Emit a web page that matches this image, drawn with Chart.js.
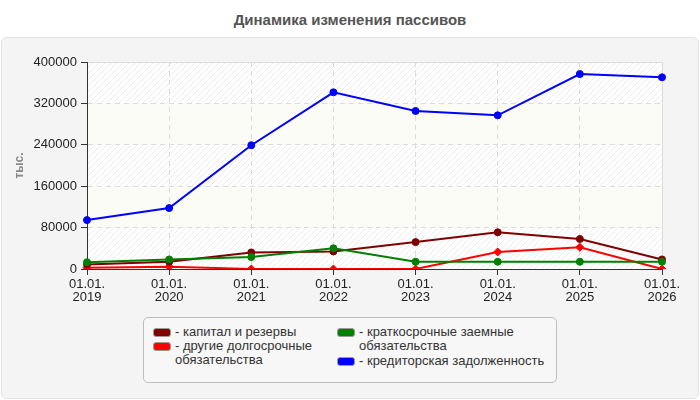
<!DOCTYPE html>
<html>
<head>
<meta charset="utf-8">
<script src="https://cdn.jsdelivr.net/npm/chart.js@4/dist/chart.umd.min.js"></script>
<style>
  body { margin: 0; width: 700px; height: 400px; background: #fff; font-family: 'Liberation Sans', Arial, sans-serif; position: relative; overflow: hidden; }
  #title { position: absolute; top: 11px; left: 0; width: 700px; text-align: center; font-size: 15px; font-weight: bold; color: #555; }
  #panel { position: absolute; left: 1px; top: 37px; width: 696px; height: 360px; background: #f4f4f4; border: 1px solid #e2e2e2; border-radius: 6px; }
  #chart { position: absolute; left: 0; top: 0; }
  #legend { position: absolute; left: 143px; top: 317px; width: 412px; height: 64px; background: #f7f7f7; border: 1px solid #bdbdbd; border-radius: 5px; }
  .item { position: absolute; font-size: 13px; line-height: 14px; color: #333; }
  .sw { position: absolute; left: 0; top: 3px; width: 16px; height: 7px; border: 1px solid #999; border-radius: 3px; }
  .txt { padding-left: 22px; }
</style>
</head>
<body>
<div id="title">Динамика изменения пассивов</div>
<div id="panel"></div>
<canvas id="chart" width="700" height="400"></canvas>
<div id="legend"></div>
<script>
// Data
const years = ['2019', '2020', '2021', '2022', '2023', '2024', '2025', '2026'];
const capital = [8800, 14000, 32000, 34000, 52000, 71000, 58000, 18500];
const otherLongTerm = [2600, 4500, 0, 0, 0, 33000, 42000, 0];
const shortTermLoans = [13000, 18500, 23000, 40000, 14000, 14000, 14000, 14000];
const payables = [94500, 117700, 239200, 341400, 305400, 297000, 376700, 370400];
const yTicks = [0, 80000, 160000, 240000, 320000, 400000];

const seriesNames = [
    'капитал и резервы',
    'другие долгосрочные обязательства',
    'краткосрочные заемные обязательства',
    'кредиторская задолженность'
];
const seriesColors = ['#800000', '#ff0000', '#008000', '#0000ff'];

const fontFamily = "'Liberation Sans', Arial, sans-serif";

// Hatched pattern for plot bands
function makeHatch() {
    const c = document.createElement('canvas');
    c.width = 6; c.height = 6;
    const g = c.getContext('2d');
    g.fillStyle = '#ffffff';
    g.fillRect(0, 0, 6, 6);
    g.strokeStyle = '#ececec';
    g.lineWidth = 1;
    g.beginPath();
    g.moveTo(0, 6); g.lineTo(6, 0);
    g.moveTo(-1, 1); g.lineTo(1, -1);
    g.moveTo(5, 7); g.lineTo(7, 5);
    g.stroke();
    return g.createPattern(c, 'repeat');
}

const bandPlugin = {
    id: 'bands',
    beforeDraw(chart) {
        const { ctx, chartArea, scales } = chart;
        const hatch = makeHatch();
        ctx.save();
        for (let i = 0; i < yTicks.length - 1; i++) {
            const top = scales.y.getPixelForValue(yTicks[i + 1]);
            const bottom = scales.y.getPixelForValue(yTicks[i]);
            ctx.fillStyle = (i % 2 === 0) ? hatch : '#fcfcf6';
            ctx.fillRect(chartArea.left, top, chartArea.right - chartArea.left, bottom - top);
        }
        // light frame on top and right
        ctx.strokeStyle = '#dddddd';
        ctx.lineWidth = 1;
        ctx.beginPath();
        ctx.moveTo(chartArea.left, chartArea.top + 0.5);
        ctx.lineTo(chartArea.right + 0.5, chartArea.top + 0.5);
        ctx.lineTo(chartArea.right + 0.5, chartArea.bottom);
        ctx.stroke();
        ctx.restore();
    }
};

function dataset(i, values, pointStyle, radius, order) {
    return {
        label: seriesNames[i],
        data: values,
        borderColor: seriesColors[i],
        backgroundColor: seriesColors[i],
        borderWidth: 2,
        pointStyle: pointStyle,
        pointRadius: radius,
        pointBorderWidth: 1,
        tension: 0,
        order: order
    };
}

new Chart(document.getElementById('chart'), {
    type: 'line',
    data: {
        labels: years.map(y => ['01.01.', y]),
        datasets: [
            dataset(0, capital, 'circle', 3.5, 2),
            dataset(1, otherLongTerm, 'rectRot', 4, 3),
            dataset(2, shortTermLoans, 'circle', 3.5, 1),
            dataset(3, payables, 'circle', 3.5, 0)
        ]
    },
    options: {
        responsive: false,
        animation: false,
        devicePixelRatio: 1,
        layout: { padding: { left: 0, right: 38, top: 62, bottom: 91 } },
        plugins: { legend: { display: false }, title: { display: false }, tooltip: { enabled: false } },
        scales: {
            x: {
                offset: false,
                afterFit: s => { s.height = 40; },
                grid: { color: '#dcdcdc', tickColor: '#333', tickLength: 6, tickBorderDash: [] },
                border: { color: '#333', width: 1, dash: [5, 4] },
                ticks: { color: '#222', font: { family: fontFamily, size: 13, lineHeight: 1.0 }, padding: 3, maxRotation: 0, autoSkip: false }
            },
            y: {
                min: 0,
                max: 400000,
                afterFit: s => { s.width = 87; },
                afterBuildTicks: s => { s.ticks = yTicks.map(v => ({ value: v })); },
                grid: { color: '#dcdcdc', tickColor: '#333', tickLength: 6, tickBorderDash: [] },
                border: { color: '#333', width: 1, dash: [5, 4] },
                ticks: { color: '#222', font: { family: fontFamily, size: 13 }, padding: 4, callback: v => String(v) },
                title: { display: true, text: 'тыс.', color: '#888', font: { family: fontFamily, size: 12, weight: 'bold' }, padding: { top: 12 } }
            }
        }
    },
    plugins: [bandPlugin]
});

// HTML legend, two columns like the original
const legendPos = [
    { left: 9, top: 7 },
    { left: 9, top: 21 },
    { left: 193, top: 7 },
    { left: 193, top: 36 }
];
const legendWidths = [175, 175, 215, 215];
const legend = document.getElementById('legend');
seriesNames.forEach((name, i) => {
    const item = document.createElement('div');
    item.className = 'item';
    item.style.left = legendPos[i].left + 'px';
    item.style.top = legendPos[i].top + 'px';
    item.style.width = legendWidths[i] + 'px';
    item.innerHTML = '<div class="sw" style="background:' + seriesColors[i] + '"></div><div class="txt">- ' + name + '</div>';
    legend.appendChild(item);
});
</script>
</body>
</html>
